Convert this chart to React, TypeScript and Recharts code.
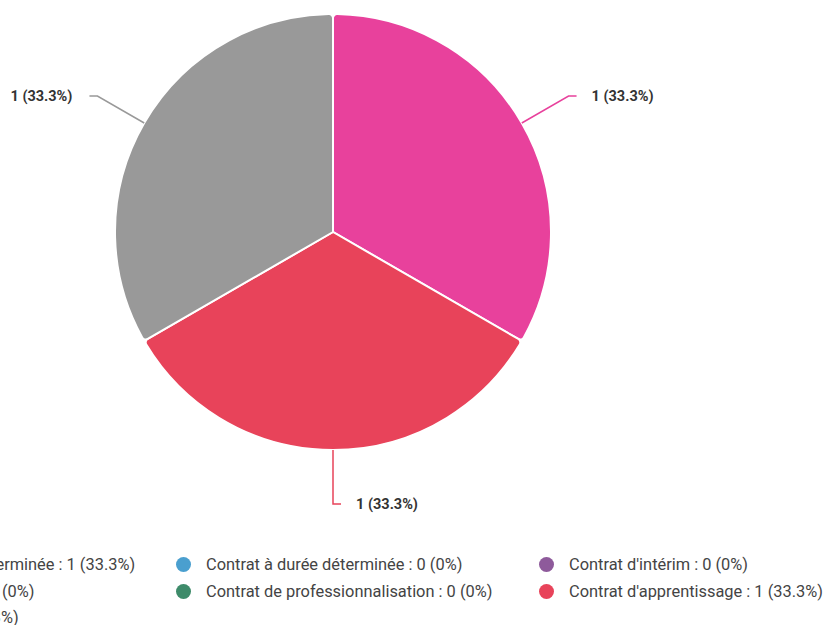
import React from "react";
import { PieChart, Pie, Cell } from "recharts";

const categories = [
  "Contrat à durée indéterminée",
  "Contrat à durée déterminée",
  "Contrat d'intérim",
  "Contrat saisonnier",
  "Contrat de professionnalisation",
  "Contrat d'apprentissage",
  "Autre contrat",
];
const counts = [1, 0, 0, 0, 0, 1, 1];
const colors = ["#E8419C", "#4A9FCF", "#8E5A9B", "#F0A33A", "#3E8B6A", "#E8435A", "#999999"];

const total = counts.reduce((a, b) => a + b, 0);
const fmtPct = (v: number) => {
  const p = total ? (v / total) * 100 : 0;
  return `${Number.isInteger(p) ? p : p.toFixed(1)}%`;
};

const rows = categories.map((name, i) => ({ name, value: counts[i], color: colors[i] }));
const pieRows = rows.filter((r) => r.value > 0);

const RAD = Math.PI / 180;

const renderLabel = (props: any) => {
  const { cx, cy, midAngle, outerRadius, value, index } = props;
  const color = pieRows[index].color;
  const cos = Math.cos(-midAngle * RAD);
  const sin = Math.sin(-midAngle * RAD);
  const sx = cx + outerRadius * cos;
  const sy = cy + outerRadius * sin;
  const mx = cx + (outerRadius + 54) * cos;
  const my = cy + (outerRadius + 54) * sin;
  const dir = cos >= -1e-6 ? 1 : -1;
  const ex = mx + dir * 8;
  const tx = ex + dir * (dir > 0 ? 15 : 17);
  return (
    <g>
      <polyline
        points={`${sx},${sy} ${mx},${my} ${ex},${my}`}
        fill="none"
        stroke={color}
        strokeWidth={1.5}
      />
      <text
        x={tx}
        y={my}
        textAnchor={dir > 0 ? "start" : "end"}
        dominantBaseline="central"
        fontFamily="Roboto"
        fontWeight="bold"
        fontSize={14.5}
        fill="#333"
      >
        {`${value} (${fmtPct(value)})`}
      </text>
    </g>
  );
};

export default function App() {
  return (
    <div
      style={{
        position: "absolute",
        left: 0,
        top: 0,
        width: 825,
        height: 625,
        overflow: "hidden",
        background: "#fff",
      }}
    >
      <PieChart width={825} height={530} margin={{ top: 0, right: 0, bottom: 0, left: 0 }}>
        <Pie
          data={pieRows}
          dataKey="value"
          nameKey="name"
          cx={333}
          cy={232}
          outerRadius={218}
          startAngle={90}
          endAngle={-270}
          stroke="#fff"
          strokeWidth={2}
          cornerRadius={4}
          label={renderLabel}
          labelLine={false}
          isAnimationActive={false}
        >
          {pieRows.map((r) => (
            <Cell key={r.name} fill={r.color} />
          ))}
        </Pie>
      </PieChart>
      <div
        style={{
          position: "absolute",
          left: -193,
          top: 554,
          width: 1100,
          display: "grid",
          gridTemplateColumns: "363px 363px 363px",
          rowGap: 5.5,
          fontFamily: "Roboto",
          fontSize: 16.4,
          color: "#444",
        }}
      >
        {rows.map((r) => (
          <div key={r.name} style={{ display: "flex", alignItems: "center", height: 21, whiteSpace: "nowrap" }}>
            <span
              style={{
                display: "inline-block",
                width: 15,
                height: 15,
                borderRadius: "50%",
                background: r.color,
                marginLeft: 6,
                marginRight: 15,
              }}
            />
            <span>{`${r.name} : ${r.value} (${fmtPct(r.value)})`}</span>
          </div>
        ))}
      </div>
    </div>
  );
}
